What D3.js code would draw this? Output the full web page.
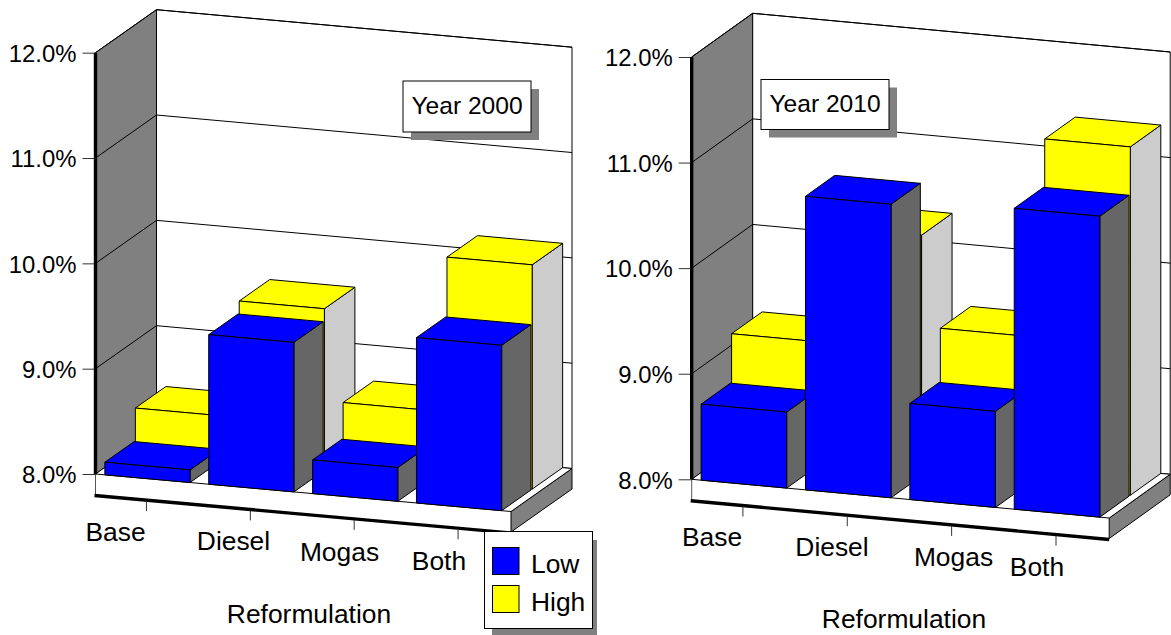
<!DOCTYPE html>
<html>
<head>
<meta charset="utf-8">
<script src="https://cdn.jsdelivr.net/npm/d3@7/dist/d3.min.js"></script>
<style>
  html, body { margin: 0; padding: 0; background: #fff; }
  svg { display: block; }
  text { font-family: "Liberation Sans", Arial, sans-serif; font-size: 26.4px; fill: #000; }
</style>
</head>
<body>
<svg id="chart" width="1171" height="635"></svg>
<script>
// Octane cost by reformulation type, low and high cases
const categories = ["Base", "Diesel", "Mogas", "Both"];
const seriesNames = ["Low", "High"];
const valueTicks = [8, 9, 10, 11, 12];
const low2000 = [8.12, 9.42, 8.32, 9.57];
const high2000 = [8.43, 9.535, 8.66, 10.13];
const low2010 = [8.72, 10.78, 8.91, 10.85];
const high2010 = [9.18, 10.28, 9.415, 11.30];

const BLUE = "#0000ff", YELLOW = "#ffff00";
const SIDE_BLUE = "#666666", SIDE_YELLOW = "#cccccc", WALL = "#808080";

const svg = d3.select("#chart");

function poly(g, pts, fill, stroke) {
  g.append("path")
    .attr("d", d3.line()(pts) + "Z")
    .attr("fill", fill)
    .attr("stroke", stroke || "#000")
    .attr("stroke-width", 1)
    .attr("stroke-linejoin", "round");
}
function seg(g, a, b, width, color) {
  g.append("line")
    .attr("x1", a[0]).attr("y1", a[1]).attr("x2", b[0]).attr("y2", b[1])
    .attr("stroke", color || "#000").attr("stroke-width", width || 1);
}
function note(x, y, w, h, baseline, label) {
  const g = svg.append("g");
  g.append("rect").attr("x", x + 8).attr("y", y + 8).attr("width", w).attr("height", h).attr("fill", WALL);
  g.append("rect").attr("x", x).attr("y", y).attr("width", w).attr("height", h)
    .attr("fill", "#fff").attr("stroke", "#000");
  g.append("text").attr("x", x + w / 2).attr("y", baseline).attr("text-anchor", "middle")
    .style("font-size", "24.6px").text(label);
}

function panel(cfg) {
  const g = svg.append("g");
  const y = d3.scaleLinear().domain([8, 12]).range([cfg.y8, cfg.y12]);
  const u = d3.scaleBand().domain(categories).range([0, cfg.width])
    .paddingInner(0.18).paddingOuter(0.09);

  // Oblique projection: a along the front edge (px), d depth 0..1, v value
  const P = (a, d, v) => [
    cfg.x0 + a + d * cfg.depthX,
    y(v) + a * cfg.slope - d * cfg.depthY
  ];

  // Walls
  poly(g, [P(0, 0, 8), P(0, 1, 8), P(0, 1, 12), P(0, 0, 12)], WALL);
  poly(g, [P(0, 1, 8), P(cfg.width, 1, 8), P(cfg.width, 1, 12), P(0, 1, 12)], "#fff");
  valueTicks.slice(1, -1).forEach(v => {
    seg(g, P(0, 0, v), P(0, 1, v));
    seg(g, P(0, 1, v), P(cfg.width, 1, v));
  });

  // Floor slab
  const drop = cfg.slab;
  const down = p => [p[0], p[1] + drop];
  poly(g, [P(0, 0, 8), P(cfg.width, 0, 8), down(P(cfg.width, 0, 8)), down(P(0, 0, 8))], "#fff", "#fff");
  seg(g, P(0, 0, 8), down(P(0, 0, 8)), 1, "#555");
  poly(g, [P(cfg.width, 0, 8), P(cfg.width, 1, 8), down(P(cfg.width, 1, 8)), down(P(cfg.width, 0, 8))], WALL);
  poly(g, [P(0, 0, 8), P(cfg.width, 0, 8), P(cfg.width, 1, 8), P(0, 1, 8)], "#fff");

  // One block: right side, top and front faces
  function box(cat, v, d0, d1, front, side) {
    const a0 = u(cat), a1 = a0 + u.bandwidth();
    poly(g, [P(a1, d0, 8), P(a1, d1, 8), P(a1, d1, v), P(a1, d0, v)], side);
    poly(g, [P(a0, d0, v), P(a1, d0, v), P(a1, d1, v), P(a0, d1, v)], front);
    poly(g, [P(a0, d0, 8), P(a1, d0, 8), P(a1, d0, v), P(a0, d0, v)], front);
  }
  categories.forEach((c, i) => box(c, cfg.high[i], 0.5, 1, YELLOW, SIDE_YELLOW));
  categories.forEach((c, i) => box(c, cfg.low[i], 0, 0.48, BLUE, SIDE_BLUE));

  // Value axis
  const axis = d3.axisLeft(y).tickValues(valueTicks)
    .tickFormat(v => v.toFixed(1) + "%").tickSize(13).tickPadding(6);
  const ax = svg.append("g").attr("transform", `translate(${cfg.x0},0)`).call(axis);
  ax.select(".domain").remove();
  ax.selectAll(".tick line").attr("stroke", "#333").attr("stroke-width", 1);
  ax.selectAll("text").attr("dy", "0.37em")
    .style("font-size", "23.9px").style("font-family", "'Liberation Sans', Arial, sans-serif");
  seg(svg, [cfg.x0, y(12)], [cfg.x0, y(8)], 3.4);

  // Top edge of the walls
  seg(g, P(0, 0, 12), P(0, 1, 12));
  seg(g, P(0, 1, 12), P(cfg.width, 1, 12));

  // Category axis runs along the bottom front edge of the slab
  const base = a => down(P(a, 0, 8));
  seg(svg, [base(0)[0] - 1, base(0)[1] + 1], [base(cfg.width)[0], base(cfg.width)[1] + 1], 3.4);
  categories.forEach((c, i) => {
    const mid = u(c) + u.bandwidth() / 2 - 1;
    const b = base(mid);
    seg(svg, [b[0], b[1] + 2], [b[0], b[1] + 12], 1, "#333");
    svg.append("text")
      .attr("x", cfg.labelX[i]).attr("y", cfg.labelY[i])
      .attr("text-anchor", "middle").text(c);
  });
  svg.append("text").attr("x", cfg.titleX).attr("y", cfg.titleY)
    .attr("text-anchor", "middle").text("Reformulation");
}

panel({
  low: low2000, high: high2000,
  x0: 95.5, y8: 474, y12: 52.7, width: 415.5, slope: 37.5 / 415.5,
  depthX: 61, depthY: 43, slab: 20.5,
  labelX: [115.5, 233.5, 339.5, 439], labelY: [540.5, 550, 561, 570],
  titleX: 309, titleY: 622.5
});
panel({
  low: low2010, high: high2010,
  x0: 691.7, y8: 479.3, y12: 57, width: 417.5, slope: 38.7 / 417.5,
  depthX: 61, depthY: 43.7, slab: 20.5,
  labelX: [712, 832, 953.5, 1037], labelY: [546, 556, 566, 576],
  titleX: 904, titleY: 627.5
});

note(403, 81, 128, 51, 114, "Year 2000");
note(761, 79.5, 128, 50, 111.7, "Year 2010");

// Legend
const lg = svg.append("g");
lg.append("rect").attr("x", 492).attr("y", 540).attr("width", 105).attr("height", 95).attr("fill", WALL);
lg.append("rect").attr("x", 484.5).attr("y", 531.5).attr("width", 108).attr("height", 97)
  .attr("fill", "#fff").attr("stroke", "#000");
seriesNames.forEach((name, i) => {
  lg.append("rect").attr("x", 492.5).attr("y", 547.5 + i * 38).attr("width", 26.5).attr("height", 27)
    .attr("fill", i ? YELLOW : BLUE).attr("stroke", "#000");
  lg.append("text").attr("x", 531).attr("y", 572.5 + i * 38).text(name);
});
</script>
</body>
</html>
